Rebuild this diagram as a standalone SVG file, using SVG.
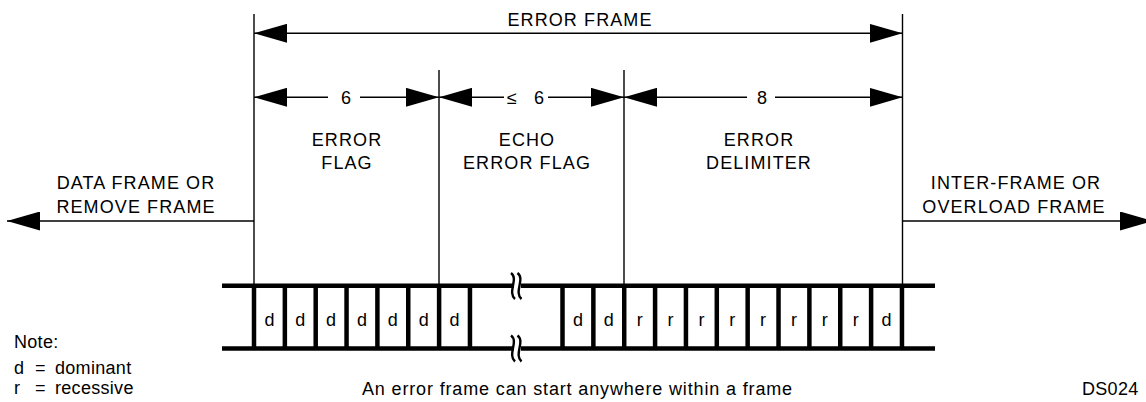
<svg xmlns="http://www.w3.org/2000/svg" width="1146" height="402" viewBox="0 0 1146 402">
<defs>
<style>
text{font-family:"Liberation Sans",Arial,sans-serif;font-size:18px;fill:#000}
.cap{letter-spacing:1.1px;text-anchor:middle}
.low{letter-spacing:0.3px}
.bit{text-anchor:middle}
.thin{stroke:#000;stroke-width:1.4;fill:none}
.arr{stroke:#000;stroke-width:1.5;fill:none}
.rail{stroke:#000;stroke-width:4.5;fill:none}
.brk{stroke:#000;stroke-width:2.4;fill:none}
</style>
<marker id="ah" viewBox="0 0 33 19" refX="33" refY="9.5" markerWidth="33" markerHeight="19" markerUnits="userSpaceOnUse" orient="auto-start-reverse">
<path d="M0,0 L33,9.5 L0,19 z" fill="#000"/>
</marker>
</defs>
<rect width="1146" height="402" fill="#fff"/>

<g id="boundaries">
<line class="thin" x1="254" y1="14" x2="254" y2="286"/>
<line class="thin" x1="902.5" y1="14" x2="902.5" y2="286"/>
<line class="thin" x1="439" y1="70" x2="439" y2="286"/>
<line class="thin" x1="624" y1="70" x2="624" y2="286"/>
</g>

<g id="connectors">
<line class="arr" x1="254" y1="33.3" x2="902.5" y2="33.3" marker-start="url(#ah)" marker-end="url(#ah)"/>
<line class="arr" x1="254" y1="97.3" x2="328" y2="97.3" marker-start="url(#ah)"/>
<line class="arr" x1="360" y1="97.3" x2="439" y2="97.3" marker-end="url(#ah)"/>
<line class="arr" x1="439" y1="97.3" x2="504" y2="97.3" marker-start="url(#ah)"/>
<line class="arr" x1="548" y1="97.3" x2="624" y2="97.3" marker-end="url(#ah)"/>
<line class="arr" x1="624" y1="97.3" x2="747" y2="97.3" marker-start="url(#ah)"/>
<line class="arr" x1="775" y1="97.3" x2="902.5" y2="97.3" marker-end="url(#ah)"/>
<line class="arr" x1="254" y1="221" x2="7" y2="221" marker-end="url(#ah)"/>
<line class="arr" x1="902.5" y1="221" x2="1153" y2="221" marker-end="url(#ah)"/>
</g>

<g id="labels">
<text class="cap" x="580" y="26">ERROR FRAME</text>
<text class="bit" x="346" y="104">6</text>
<text class="bit" y="104"><tspan x="512">≤</tspan><tspan x="539">6</tspan></text>
<text class="bit" x="762" y="104">8</text>
<text class="cap" x="347" y="146">ERROR</text>
<text class="cap" x="347" y="169.3">FLAG</text>
<text class="cap" x="527" y="146">ECHO</text>
<text class="cap" x="527" y="169.3">ERROR FLAG</text>
<text class="cap" x="759" y="146">ERROR</text>
<text class="cap" x="759" y="169.3">DELIMITER</text>
<text class="cap" x="136" y="189.3">DATA FRAME OR</text>
<text class="cap" x="136" y="213.3">REMOVE FRAME</text>
<text class="cap" x="1016" y="189.3">INTER-FRAME OR</text>
<text class="cap" x="1014" y="213.3">OVERLOAD FRAME</text>
</g>

<g id="bitstream">
<line class="rail" x1="222" y1="285.8" x2="935" y2="285.8"/>
<line class="rail" x1="222" y1="348.4" x2="935" y2="348.4"/>
<g id="dividers">
<line class="rail" x1="254" y1="286" x2="254" y2="348"/>
<line class="rail" x1="284.85" y1="286" x2="284.85" y2="348"/>
<line class="rail" x1="315.7" y1="286" x2="315.7" y2="348"/>
<line class="rail" x1="346.55" y1="286" x2="346.55" y2="348"/>
<line class="rail" x1="377.4" y1="286" x2="377.4" y2="348"/>
<line class="rail" x1="408.25" y1="286" x2="408.25" y2="348"/>
<line class="rail" x1="439.1" y1="286" x2="439.1" y2="348"/>
<line class="rail" x1="469.95" y1="286" x2="469.95" y2="348"/>
<line class="rail" x1="562.5" y1="286" x2="562.5" y2="348"/>
<line class="rail" x1="593.36" y1="286" x2="593.36" y2="348"/>
<line class="rail" x1="624.22" y1="286" x2="624.22" y2="348"/>
<line class="rail" x1="655.08" y1="286" x2="655.08" y2="348"/>
<line class="rail" x1="685.94" y1="286" x2="685.94" y2="348"/>
<line class="rail" x1="716.8" y1="286" x2="716.8" y2="348"/>
<line class="rail" x1="747.66" y1="286" x2="747.66" y2="348"/>
<line class="rail" x1="778.52" y1="286" x2="778.52" y2="348"/>
<line class="rail" x1="809.38" y1="286" x2="809.38" y2="348"/>
<line class="rail" x1="840.24" y1="286" x2="840.24" y2="348"/>
<line class="rail" x1="871.1" y1="286" x2="871.1" y2="348"/>
<line class="rail" x1="901.96" y1="286" x2="901.96" y2="348"/>
</g>
<g id="breaks">
<rect x="514" y="282" width="7" height="8" fill="#fff"/>
<rect x="514" y="344.5" width="7" height="8" fill="#fff"/>
<path class="brk" d="M511,273 C519,279 507,292 515,299"/>
<path class="brk" d="M517.5,273 C525.5,279 513.5,292 521.5,299"/>
<path class="brk" d="M511,335.5 C519,341.5 507,354.5 515,361.5"/>
<path class="brk" d="M517.5,335.5 C525.5,341.5 513.5,354.5 521.5,361.5"/>
</g>
<g id="bits">
<text class="bit" x="269.4" y="326">d</text>
<text class="bit" x="300.3" y="326">d</text>
<text class="bit" x="331.1" y="326">d</text>
<text class="bit" x="362" y="326">d</text>
<text class="bit" x="392.8" y="326">d</text>
<text class="bit" x="423.7" y="326">d</text>
<text class="bit" x="454.5" y="326">d</text>
<text class="bit" x="577.9" y="326">d</text>
<text class="bit" x="608.8" y="326">d</text>
<text class="bit" x="639.7" y="326">r</text>
<text class="bit" x="670.5" y="326">r</text>
<text class="bit" x="701.4" y="326">r</text>
<text class="bit" x="732.2" y="326">r</text>
<text class="bit" x="763.1" y="326">r</text>
<text class="bit" x="794" y="326">r</text>
<text class="bit" x="824.8" y="326">r</text>
<text class="bit" x="855.7" y="326">r</text>
<text class="bit" x="886.5" y="326">d</text>
</g>
</g>

<g id="notes">
<text class="low" x="14" y="348">Note:</text>
<text x="14" y="374">d</text>
<text x="35" y="374">=</text>
<text class="low" x="55" y="374">dominant</text>
<text x="14" y="394">r</text>
<text x="35" y="394">=</text>
<text class="low" x="55" y="394">recessive</text>
<text x="362" y="395" style="letter-spacing:0.85px">An error frame can start anywhere within a frame</text>
<text class="low" x="1082" y="395">DS024</text>
</g>
</svg>
